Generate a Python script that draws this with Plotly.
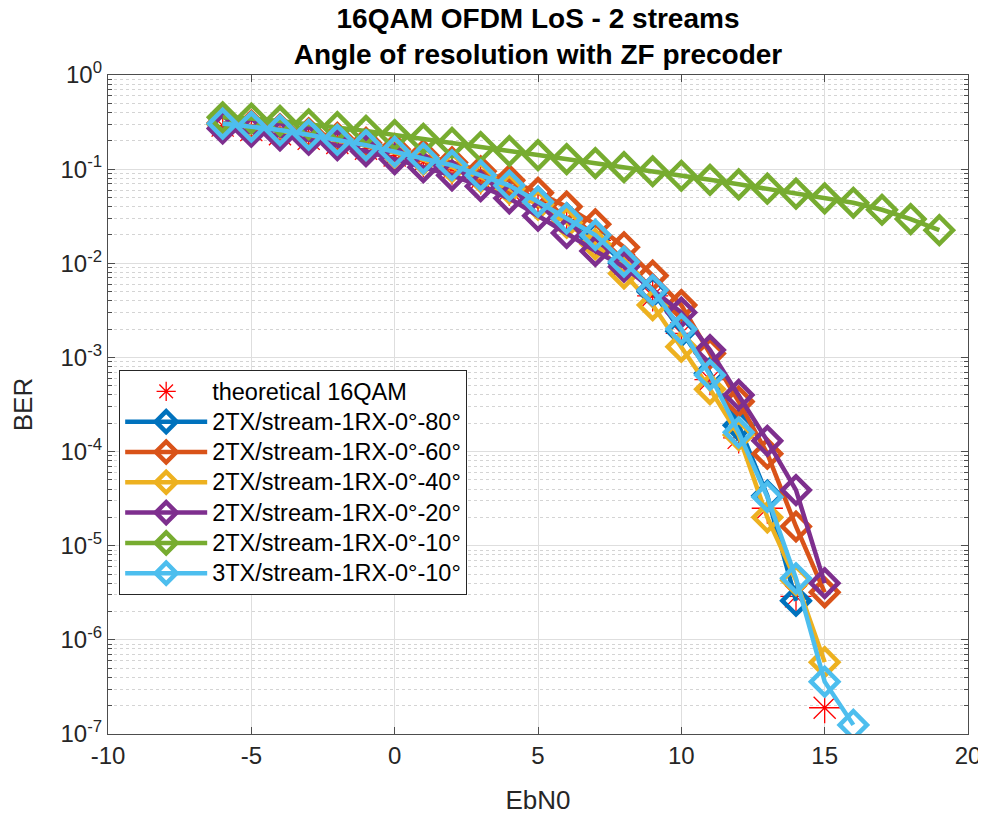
import plotly.graph_objects as go

# Eb/N0 axes (dB)
ebn0_theory = list(range(-6, 16))
ebn0_80 = list(range(-6, 15))
ebn0_60 = list(range(-6, 16))
ebn0_40 = list(range(-6, 16))
ebn0_20 = list(range(-6, 16))
ebn0_10 = list(range(-6, 20))
ebn0_3tx = list(range(-6, 17))

# BER values
ber_theory = [0.29, 0.26, 0.235, 0.21, 0.19, 0.165, 0.14, 0.12, 0.10, 0.079, 0.06,
              0.044, 0.029, 0.0175, 0.0096, 0.0045, 0.0018, 5.8e-4, 1.4e-4, 2.5e-5,
              2.9e-6, 1.9e-7]
ber_80 = [0.30, 0.28, 0.255, 0.23, 0.205, 0.178, 0.152, 0.128, 0.108, 0.085, 0.066,
          0.045, 0.030, 0.019, 0.0100, 0.0050, 0.0019, 6.8e-4, 1.9e-4, 3.4e-5, 2.6e-6]
ber_60 = [0.31, 0.29, 0.265, 0.24, 0.215, 0.19, 0.163, 0.14, 0.118, 0.095, 0.076,
          0.056, 0.040, 0.026, 0.0148, 0.0074, 0.0036, 1.1e-3, 3.4e-4, 9.5e-5,
          1.6e-5, 3.2e-6]
ber_40 = [0.30, 0.28, 0.255, 0.23, 0.205, 0.178, 0.15, 0.127, 0.105, 0.082, 0.062,
          0.042, 0.027, 0.016, 0.0078, 0.0036, 1.3e-3, 4.6e-4, 1.5e-4, 2.0e-5,
          4.3e-6, 5.8e-7]
ber_20 = [0.27, 0.25, 0.228, 0.205, 0.18, 0.155, 0.128, 0.105, 0.086, 0.066, 0.049,
          0.032, 0.021, 0.0135, 0.0092, 0.0052, 0.0030, 1.2e-3, 4.0e-4, 1.3e-4,
          3.9e-5, 4.0e-6]
ber_10 = [0.355, 0.345, 0.325, 0.30, 0.28, 0.255, 0.23, 0.21, 0.19, 0.172, 0.156,
          0.141, 0.128, 0.116, 0.105, 0.095, 0.085, 0.077, 0.069, 0.062, 0.055,
          0.049, 0.044, 0.037, 0.0295, 0.0225]
ber_3tx = [0.305, 0.282, 0.26, 0.232, 0.205, 0.18, 0.153, 0.13, 0.11, 0.086, 0.067,
           0.045, 0.030, 0.020, 0.0104, 0.0052, 0.0020, 6.5e-4, 1.6e-4, 3.3e-5,
           4.5e-6, 3.6e-7, 1.25e-7]

# tick labels
xtick_vals = [-10, -5, 0, 5, 10, 15, 20]
xtick_text = ["-10", "-5", "0", "5", "10", "15", "20"]
ytick_vals = [1, 1e-1, 1e-2, 1e-3, 1e-4, 1e-5, 1e-6, 1e-7]
ytick_text = ["10<sup>0</sup>", "10<sup>-1</sup>", "10<sup>-2</sup>", "10<sup>-3</sup>",
              "10<sup>-4</sup>", "10<sup>-5</sup>", "10<sup>-6</sup>", "10<sup>-7</sup>"]

series = [
    ("2TX/stream-1RX-0°-80°", ebn0_80, ber_80, "#0072BD"),
    ("2TX/stream-1RX-0°-60°", ebn0_60, ber_60, "#D95319"),
    ("2TX/stream-1RX-0°-40°", ebn0_40, ber_40, "#EDB120"),
    ("2TX/stream-1RX-0°-20°", ebn0_20, ber_20, "#7E2F8E"),
    ("2TX/stream-1RX-0°-10°", ebn0_10, ber_10, "#77AC30"),
    ("3TX/stream-1RX-0°-10°", ebn0_3tx, ber_3tx, "#4DBEEE"),
]


def leg(txt):
    # bigger text than the legend font, so rows stay tight like the original
    return '<span style="font-size:23.5px">%s</span>' % txt


fig = go.Figure()
fig.add_trace(go.Scatter(
    x=ebn0_theory, y=ber_theory, mode="markers", name=leg("theoretical 16QAM"),
    marker=dict(symbol="asterisk-open", size=26, color="red",
                line=dict(color="red", width=1.3)),
))
for name, x, y, col in series:
    fig.add_trace(go.Scatter(
        x=x, y=y, mode="lines+markers", name=leg(name),
        line=dict(color=col, width=4.5),
        marker=dict(symbol="diamond-open", size=21, color=col,
                    line=dict(color=col, width=4.5)),
    ))

axis_col = "#4d4d4d"
# the page body has an 8px margin, so the figure is drawn 8px smaller
fig.update_layout(
    width=978, height=811,
    margin=dict(l=100, r=18, t=67, b=85),
    plot_bgcolor="white", paper_bgcolor="white",
    font=dict(family="Liberation Sans, Arial, sans-serif", color="#262626", size=24),
    title=dict(
        text="<b>16QAM OFDM LoS - 2 streams<br>Angle of resolution with ZF precoder</b>",
        x=0.5, xref="paper", xanchor="center",
        y=1, yref="paper", yanchor="bottom", pad=dict(b=47),
        font=dict(size=28, color="#000000"),
    ),
    xaxis=dict(
        range=[-10, 20], tickvals=xtick_vals, ticktext=xtick_text,
        title=dict(text="EbN0", font=dict(size=26), standoff=22),
        showgrid=True, gridcolor="#dedede", gridwidth=1,
        showline=True, linecolor=axis_col, linewidth=1.3, mirror="ticks",
        ticks="inside", ticklen=7, tickcolor=axis_col,
        tickfont=dict(size=24), zeroline=False, automargin=False,
    ),
    yaxis=dict(
        type="log", range=[-7, 0],
        tickvals=ytick_vals, ticktext=ytick_text,
        title=dict(text="BER", font=dict(size=26), standoff=20),
        showgrid=True, gridcolor="#dedede", gridwidth=1,
        showline=True, linecolor=axis_col, linewidth=1.3, mirror="ticks",
        ticks="inside", ticklen=7, tickcolor=axis_col,
        tickfont=dict(size=24), zeroline=False, automargin=False,
        minor=dict(dtick="D1", showgrid=True, griddash="dot", gridcolor="#d4d4d4",
                   ticks="inside", ticklen=4, tickcolor=axis_col),
    ),
    legend=dict(
        x=0.013, y=0.552, xanchor="left", yanchor="top",
        bgcolor="white", bordercolor="#262626", borderwidth=1,
        font=dict(size=21, color="#000000"),
        tracegroupgap=0, itemwidth=82,
    ),
)

fig.write_html("out.html")
